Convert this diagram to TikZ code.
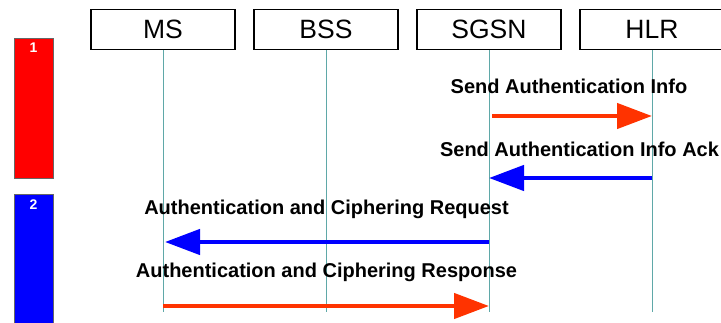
\documentclass[tikz,border=0pt]{standalone}
\usepackage{fontspec}
\setmainfont{Liberation Sans}
\usetikzlibrary{arrows.meta}
\definecolor{msgred}{RGB}{255,51,0}
\definecolor{msgblue}{RGB}{0,0,255}
\definecolor{lifecol}{RGB}{95,168,168}
\definecolor{phasered}{RGB}{255,0,0}
\tikzset{
  entity/.style={draw=black, line width=1.4pt, minimum width=144pt, minimum height=40pt,
    inner sep=0pt, font=\fontsize{26.5}{26.5}\selectfont},
  lifeline/.style={draw=lifecol, line width=1pt},
  msg/.style={line width=4.5pt, -{Triangle[length=35pt,width=25pt]}},
  msglabel/.style={anchor=base, inner sep=0pt, font=\bfseries\fontsize{20}{20}\selectfont},
  phase/.style={draw=black!60, line width=0.8pt},
  phaselabel/.style={text=white, inner sep=0pt, font=\bfseries\fontsize{14}{14}\selectfont}
}
\begin{document}
\begin{tikzpicture}[x=1pt,y=-1pt]
\useasboundingbox (0,0) rectangle (721,323);

% phase bars
\filldraw[phase, fill=phasered] (14,38) rectangle (53,178);
\node[phaselabel] (p1) at (33.5,48) {1};
\filldraw[phase, fill=msgblue] (14,194) rectangle (53,326);
\node[phaselabel] (p2) at (33.5,204.5) {2};

% entities
\node[entity] (ms)   at (163,29.5) {MS};
\node[entity] (bss)  at (326,29.5) {BSS};
\node[entity] (sgsn) at (489,29.5) {SGSN};
\node[entity] (hlr)  at (652,29.5) {HLR};

% lifelines
\coordinate (bot) at (0,312);
\foreach \e in {ms,bss,sgsn,hlr}
  \draw[lifeline] (\e.south) -- (\e |- bot);

% message rows
\coordinate (r1) at (0,116);
\coordinate (r2) at (0,178);
\coordinate (r3) at (0,242);
\coordinate (r4) at (0,306);

\draw[msg, draw=msgred, fill=msgred] ([xshift=3pt]sgsn |- r1) -- (hlr |- r1);
\node[msglabel] (l1) at (569,93.5) {Send Authentication Info};

\draw[msg, draw=msgblue, fill=msgblue] (hlr |- r2) -- (sgsn |- r2);
\node[msglabel] (l2) at (579.5,157) {Send Authentication Info Ack};

\draw[msg, draw=msgblue, fill=msgblue] (sgsn |- r3) -- ([xshift=2pt]ms |- r3);
\node[msglabel] (l3) at (326.5,215) {Authentication and Ciphering Request};

\draw[msg, draw=msgred, fill=msgred] (ms |- r4) -- (sgsn |- r4);
\node[msglabel] (l4) at (326.5,277.5) {Authentication and Ciphering Response};
\end{tikzpicture}
\end{document}
